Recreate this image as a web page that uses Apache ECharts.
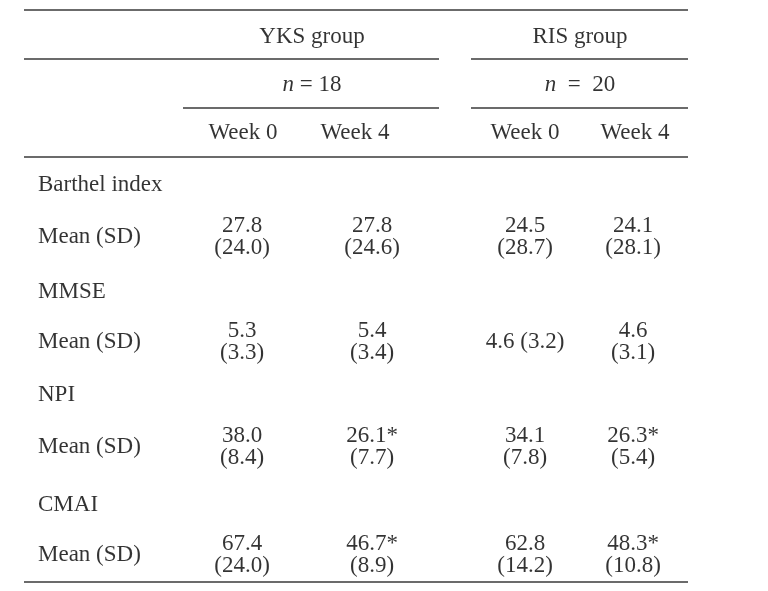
<!DOCTYPE html>
<html>
<head>
<meta charset="utf-8">
<script src="https://cdn.jsdelivr.net/npm/echarts@6/dist/echarts.min.js"></script>
<style>
  html, body { margin: 0; padding: 0; background: #fff; }
  #main { width: 768px; height: 591px; }
</style>
</head>
<body>
<div id="main"></div>
<script>
// table content
var groups = ["YKS group", "RIS group"];
var groupN = [18, 20];
var weeks = ["Week 0", "Week 4"];
var measures = ["Barthel index", "MMSE", "NPI", "CMAI"];
var statLabel = "Mean (SD)";

var yksWeek0Mean = [27.8, 5.3, 38.0, 67.4];
var yksWeek0SD = [24.0, 3.3, 8.4, 24.0];
var yksWeek4Mean = [27.8, 5.4, 26.1, 46.7];
var yksWeek4SD = [24.6, 3.4, 7.7, 8.9];
var yksWeek4Sig = [false, false, true, true];

var risWeek0Mean = [24.5, 4.6, 34.1, 62.8];
var risWeek0SD = [28.7, 3.2, 7.8, 14.2];
var risWeek4Mean = [24.1, 4.6, 26.3, 48.3];
var risWeek4SD = [28.1, 3.1, 5.4, 10.8];
var risWeek4Sig = [false, false, true, true];

// layout (page coordinates of the table)
var labelX = 38;
var groupX = [312, 580];
var weekX = [243, 355, 525, 635];
var valueX = [242, 372, 525, 633];
var headY = [37, 85, 133];
var measureY = [185, 292, 395, 505];
var meanY = [237, 342, 447, 555];
var inlineCell = { col: 2, row: 1 }; // "4.6 (3.2)" is on one line
var ruleLeft = 24, ruleRight = 688, yksEnd = 439, risStart = 471, nStart = 183;
var rules = [
  [ruleLeft, ruleRight, 10],
  [ruleLeft, yksEnd, 59],
  [risStart, ruleRight, 59],
  [nStart, yksEnd, 108],
  [risStart, ruleRight, 108],
  [ruleLeft, ruleRight, 157],
  [ruleLeft, ruleRight, 582]
];

var font = "'Liberation Serif', 'Times New Roman', serif";
var textColor = "#000";
var fontSize = 23;

var columns = [
  { mean: yksWeek0Mean, sd: yksWeek0SD, sig: null },
  { mean: yksWeek4Mean, sd: yksWeek4SD, sig: yksWeek4Sig },
  { mean: risWeek0Mean, sd: risWeek0SD, sig: null },
  { mean: risWeek4Mean, sd: risWeek4SD, sig: risWeek4Sig }
];

var centerCells = [];
groups.forEach(function (g, i) {
  centerCells.push({ value: [groupX[i], headY[0]], text: g });
  var eq = i === 0 ? " = " : "  =  ";
  centerCells.push({ value: [groupX[i], headY[1]], text: "{i|n}" + eq + groupN[i] });
  weeks.forEach(function (w, j) {
    centerCells.push({ value: [weekX[i * 2 + j], headY[2]], text: w });
  });
});
columns.forEach(function (c, ci) {
  measures.forEach(function (m, ri) {
    var mean = c.mean[ri].toFixed(1) + (c.sig && c.sig[ri] ? "*" : "");
    var sd = "(" + c.sd[ri].toFixed(1) + ")";
    var inline = ci === inlineCell.col && ri === inlineCell.row;
    centerCells.push({
      value: [valueX[ci], meanY[ri]],
      text: inline ? mean + " " + sd : mean + "\n" + sd
    });
  });
});

var leftCells = [];
measures.forEach(function (m, ri) {
  leftCells.push({ value: [labelX, measureY[ri]], text: m });
  leftCells.push({ value: [labelX, meanY[ri]], text: statLabel });
});

var chart = echarts.init(document.getElementById("main"));

chart.setOption({
  animation: false,
  grid: { left: 0, right: 0, top: 0, bottom: 0 },
  xAxis: { type: "value", min: 0, max: 768, show: false },
  yAxis: { type: "value", min: 0, max: 591, inverse: true, show: false },
  series: [
    {
      type: "lines",
      coordinateSystem: "cartesian2d",
      silent: true,
      lineStyle: { color: "#3a3a3a", width: 1.5, opacity: 1 },
      data: rules.map(function (r) {
        return { coords: [[r[0], r[2]], [r[1], r[2]]] };
      })
    },
    {
      type: "scatter",
      symbolSize: 0,
      silent: true,
      data: centerCells,
      label: {
        show: true,
        position: "inside",
        align: "center",
        verticalAlign: "middle",
        fontFamily: font,
        fontSize: fontSize,
        lineHeight: 22,
        color: textColor,
        formatter: function (p) { return p.data.text; },
        rich: {
          i: { fontFamily: font, fontSize: fontSize, fontStyle: "italic", color: textColor }
        }
      }
    },
    {
      type: "scatter",
      symbolSize: 0,
      silent: true,
      data: leftCells,
      label: {
        show: true,
        position: "inside",
        align: "left",
        verticalAlign: "middle",
        fontFamily: font,
        fontSize: fontSize,
        color: textColor,
        formatter: function (p) { return p.data.text; }
      }
    }
  ]
});
</script>
</body>
</html>
